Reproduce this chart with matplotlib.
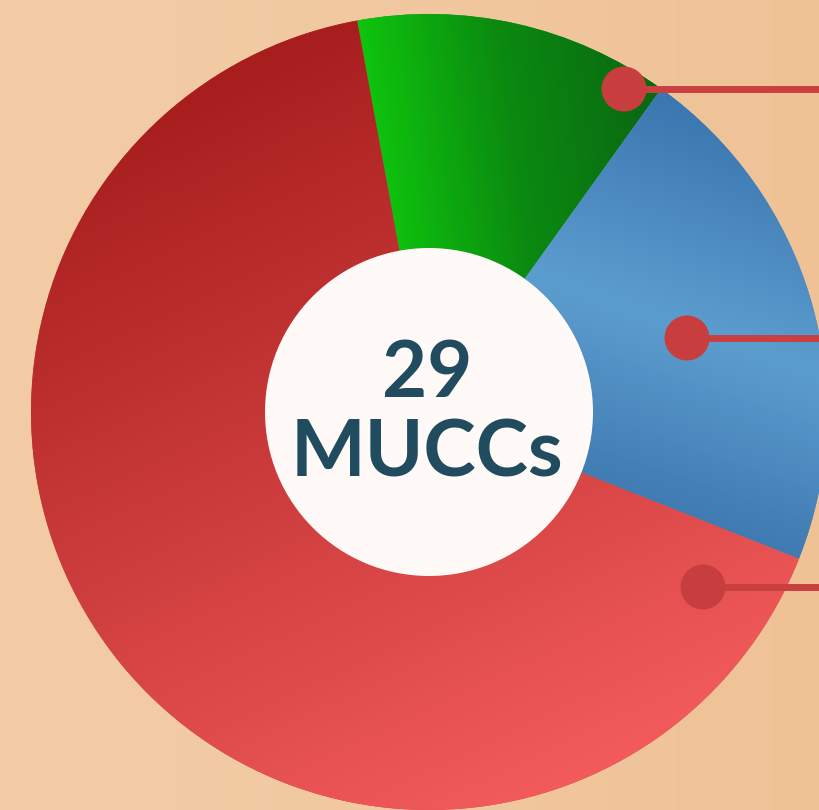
import numpy as np
import matplotlib
matplotlib.use("Agg")
import matplotlib.pyplot as plt
from matplotlib.colors import LinearSegmentedColormap
from matplotlib.patches import Circle

# share of each ring segment (green, blue, red)
segment_names = ["green", "blue", "red"]
segment_values = [12.8, 21.1, 66.1]
total_label = "29"
unit_label = "MUCCs"

# callout dots (image pixels, y measured from the top)
callout_x = [624, 687, 703]
callout_y = [89, 338, 587]

W, H = 820, 810
cx, cy = 429, H - 412       # ring centre, y up
r_out, r_in = 398, 164

fig = plt.figure(figsize=(8.2, 8.1), dpi=100)
ax = fig.add_axes([0, 0, 1, 1])

yy, xx = np.mgrid[0:H, 0:W] + 0.5   # image coords, row 0 at top


def linear_grad(p0, p1, colors):
    d = np.array(p1, float) - np.array(p0, float)
    t = ((xx - p0[0]) * d[0] + (yy - p0[1]) * d[1]) / (d @ d)
    t = np.clip(t, 0, 1)
    cmap = LinearSegmentedColormap.from_list("g", colors)
    return cmap(t)


# background
bg = linear_grad((0, 400), (W, 400), [(0, "#F2CCA6"), (0.22, "#F2CBA4"), (1, "#EFC296")])
ax.imshow(bg, extent=(0, W, 0, H), zorder=0, interpolation="bilinear")

wedges, _ = ax.pie(segment_values, startangle=90 + 10.4, counterclock=False,
                   radius=r_out, center=(cx, cy),
                   colors=["#0CA010", "#4A8CC2", "#D24040"],
                   wedgeprops=dict(linewidth=0))

fills = {
    "green": linear_grad((360, 110), (650, 70), ["#0FC80D", "#0B8A10", "#0A6812"]),
    "blue": linear_grad((748, 99), (596, 545), [(0, "#3772AC"), (0.5, "#5C9DCF"), (1, "#3770A9")]),
    "red": linear_grad((330, 30), (680, 770), ["#A81E1E", "#F65E5E"]),
}
for name, w in zip(segment_names, wedges):
    w.set_zorder(1)
    im = ax.imshow(fills[name], extent=(0, W, 0, H), zorder=2, interpolation="bilinear")
    im.set_clip_path(w)

# centre hole
ax.add_patch(Circle((cx, cy), r_in, facecolor="#FFFAF7", edgecolor="none", zorder=3))

ax.text(cx - 2, H - 397, total_label, ha="center", va="baseline", fontsize=56,
        fontfamily="Lato", fontweight="bold", color="#214B5E", zorder=4)
ax.text(cx - 2, H - 477, unit_label, ha="center", va="baseline", fontsize=57,
        fontfamily="Lato", fontweight="bold", color="#214B5E", zorder=4)

# callouts
for x, y in zip(callout_x, callout_y):
    ax.plot([x, W + 5], [H - y, H - y], color="#C94040", linewidth=5,
            solid_capstyle="butt", zorder=5)
    ax.add_patch(Circle((x, H - y), 22.5, facecolor="#C83E3E", edgecolor="none", zorder=6))

ax.set_xlim(0, W)
ax.set_ylim(0, H)
ax.set_aspect("equal")
ax.axis("off")

fig.savefig("out.png", dpi=100)
